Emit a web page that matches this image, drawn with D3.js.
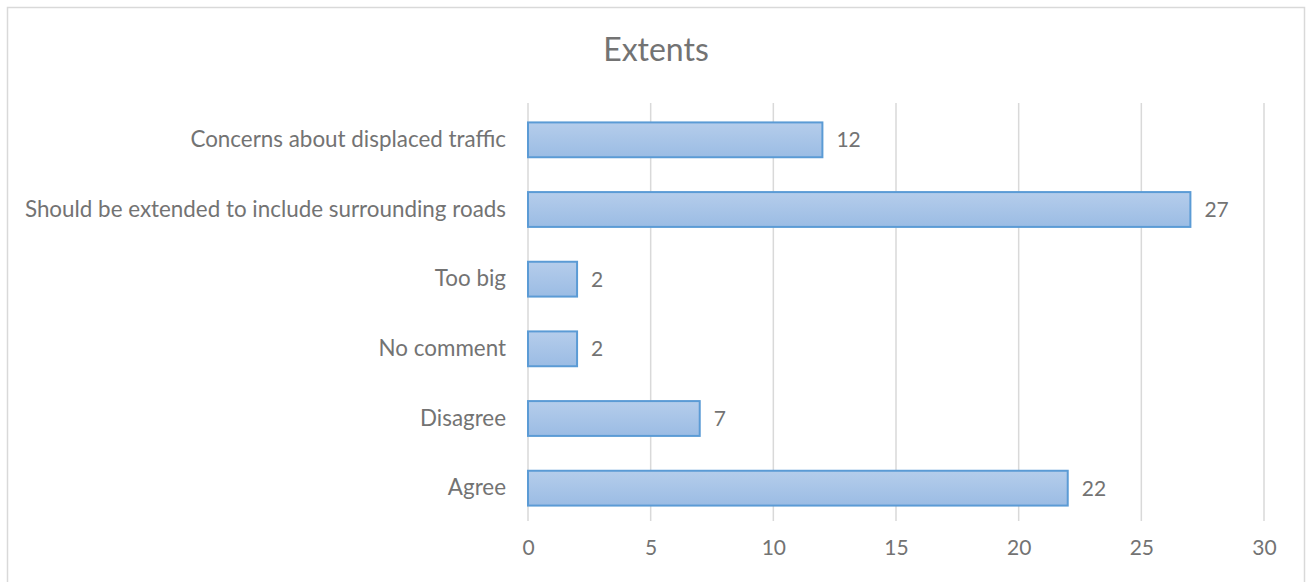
<!DOCTYPE html>
<html>
<head>
<meta charset="utf-8">
<script src="https://cdn.jsdelivr.net/npm/d3@7"></script>
<style>
  body { margin: 0; background: #fff; }
  svg { display: block; font-family: Lato, "Open Sans", sans-serif; }
</style>
</head>
<body>
<svg id="chart" width="1313" height="582"></svg>
<script>
// Chart data
const categories = ["Concerns about displaced traffic", "Should be extended to include surrounding roads", "Too big", "No comment", "Disagree", "Agree"];
const counts = [12, 27, 2, 2, 7, 22];
const xTicks = [0, 5, 10, 15, 20, 25, 30];
const chartTitle = "Extents";

const width = 1313;
const height = 582;
const margin = { top: 103, right: 49, bottom: 61, left: 528 };
const innerW = width - margin.left - margin.right;
const innerH = height - margin.top - margin.bottom;
const textColor = "#737373";

const svg = d3.select("#chart");

// outer chart frame
svg.append("rect")
  .attr("x", 7.5).attr("y", 7.5)
  .attr("width", 1297).attr("height", 590)
  .attr("fill", "#fff")
  .attr("stroke", "#d9d9d9")
  .attr("stroke-width", 1.5);

// bar gradient
const defs = svg.append("defs");
const grad = defs.append("linearGradient")
  .attr("id", "barGrad")
  .attr("x1", 0).attr("y1", 0).attr("x2", 0).attr("y2", 1);
grad.append("stop").attr("offset", "0%").attr("stop-color", "#b5cdeb");
grad.append("stop").attr("offset", "100%").attr("stop-color", "#9bbce4");

svg.append("text")
  .attr("x", 656)
  .attr("y", 61)
  .attr("text-anchor", "middle")
  .attr("fill", textColor)
  .style("font-size", "32px")
  .text(chartTitle);

const g = svg.append("g")
  .attr("transform", `translate(${margin.left},${margin.top})`);

const xScale = d3.scaleLinear().domain([0, 30]).range([0, innerW]);
const yScale = d3.scaleBand().domain(categories).range([2, innerH + 2])
  .paddingInner(0.5).paddingOuter(0.25);

// vertical gridlines
g.append("g")
  .selectAll("line")
  .data(xTicks)
  .join("line")
  .attr("x1", (d) => xScale(d)).attr("x2", (d) => xScale(d))
  .attr("y1", 0).attr("y2", innerH)
  .attr("stroke", "#d9d9d9")
  .attr("stroke-width", 1.5);

// x axis labels
const xAxis = g.append("g")
  .attr("transform", `translate(0,${innerH})`)
  .call(d3.axisBottom(xScale).tickValues(xTicks).tickSize(0).tickPadding(19));
xAxis.select(".domain").remove();
xAxis.selectAll("text")
  .attr("fill", textColor)
  .style("font-size", "21px")
  .style("font-family", "Lato, 'Open Sans', sans-serif");

// y axis labels
const yAxis = g.append("g")
  .call(d3.axisLeft(yScale).tickSize(0).tickPadding(22));
yAxis.select(".domain").remove();
yAxis.selectAll("text")
  .attr("fill", textColor)
  .style("font-size", "22.4px")
  .style("font-family", "Lato, 'Open Sans', sans-serif");

// bars
g.selectAll(".bar")
  .data(categories)
  .join("rect")
  .attr("class", "bar")
  .attr("x", xScale(0))
  .attr("y", (d) => yScale(d))
  .attr("width", (d, i) => xScale(counts[i]) - xScale(0))
  .attr("height", yScale.bandwidth())
  .attr("fill", "url(#barGrad)")
  .attr("stroke", "#5b9bd5")
  .attr("stroke-width", 2);

// value labels
g.selectAll(".value")
  .data(categories)
  .join("text")
  .attr("class", "value")
  .attr("x", (d, i) => xScale(counts[i]) + 14)
  .attr("y", (d) => yScale(d) + yScale.bandwidth() / 2)
  .attr("dy", "0.35em")
  .attr("fill", textColor)
  .style("font-size", "21px")
  .text((d, i) => counts[i]);
</script>
</body>
</html>
